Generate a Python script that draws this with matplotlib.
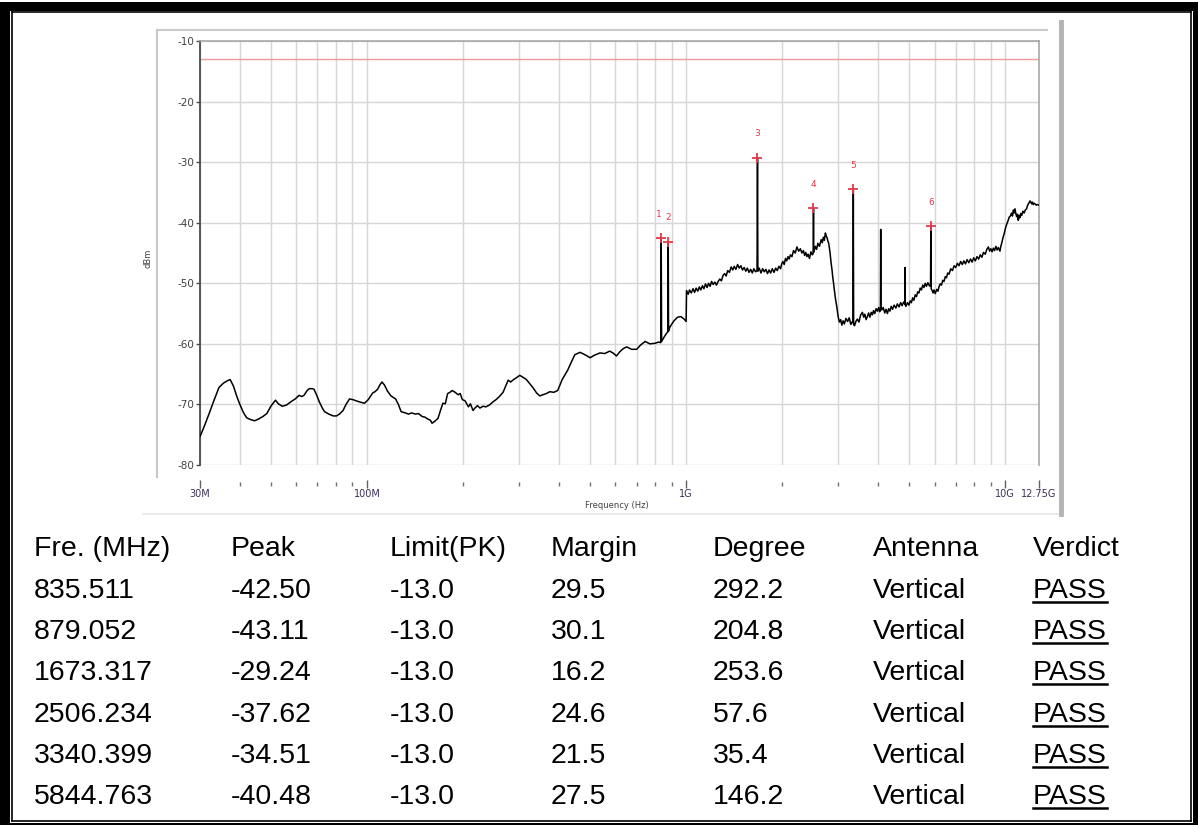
import numpy as np
import matplotlib
matplotlib.use('Agg')
import matplotlib.pyplot as plt
from matplotlib.lines import Line2D
from matplotlib.patches import Rectangle
from matplotlib.ticker import FixedLocator, NullFormatter

plt.rcParams['axes.unicode_minus'] = False

# ---- marker table (also used for the red peak markers) ----
marker_mhz = [835.511, 879.052, 1673.317, 2506.234, 3340.399, 5844.763]
peak_dbm = [-42.50, -43.11, -29.24, -37.62, -34.51, -40.48]
limit_pk = [-13.0, -13.0, -13.0, -13.0, -13.0, -13.0]
margin_db = [29.5, 30.1, 16.2, 24.6, 21.5, 27.5]
degree = [292.2, 204.8, 253.6, 57.6, 35.4, 146.2]
antenna = ['Vertical'] * 6
verdict = ['PASS'] * 6
headers = ['Fre. (MHz)', 'Peak', 'Limit(PK)', 'Margin', 'Degree', 'Antenna', 'Verdict']
limit_dbm = -13.0

trace_mhz = [
    30.0, 31.0, 32.1, 33.2, 34.4, 35.5, 36.5, 37.3, 38.2, 39.2, 40.0, 41.0, 42.0, 43.2,
    44.5, 45.8, 47.2, 48.6, 50.0, 51.0, 51.7, 52.8, 54.3, 56.0, 58.0, 59.6, 61.3, 62.5,
    63.5, 65.0, 66.0, 67.5, 68.3, 69.5, 71.0, 72.5, 73.7, 76.0, 78.5, 80.3, 82.0, 84.2,
    86.0, 88.2, 90.3, 92.5, 95.0, 98.3, 101.0, 104.3, 106.0, 108.0, 110.0, 111.5,
    113.5, 116.0, 119.0, 123.0, 125.5, 128.0, 130.0, 132.0, 135.0, 138.0, 142.0, 145.0,
    149.0, 152.0, 155.0, 158.0, 160.0, 163.0, 167.0, 170.0, 173.0, 176.0, 179.0, 182.0,
    185.0, 189.0, 193.0, 196.0, 199.0, 203.0, 208.0, 211.0, 215.0, 218.0, 222.0, 226.0,
    231.0, 236.0, 242.0, 248.0, 254.0, 260.0, 267.0, 272.0, 277.0, 282.0, 288.0, 294.0,
    301.0, 308.0, 316.0, 324.0, 331.0, 340.0, 348.0, 356.0, 365.0, 374.0, 385.0, 396.0,
    409.0, 426.0, 437.0, 448.0, 465.0, 478.0, 490.0, 500.0, 515.0, 537.0, 556.0, 576.0,
    590.0, 605.0, 620.0, 635.0, 651.0, 675.0, 700.0, 720.0, 744.0, 770.0, 800.0, 820.0,
    833.0, 838.0, 855.0, 870.0, 877.0, 881.0, 890.0, 916.0, 940.0, 963.0, 985.0, 1000.0,
    1003.0, 1015.0, 1025.0, 1038.0, 1051.0, 1063.0, 1075.0, 1088.0, 1100.0, 1112.0,
    1125.0, 1137.0, 1150.0, 1163.0, 1176.0, 1189.0, 1202.0, 1216.0, 1230.0, 1245.0,
    1260.0, 1275.0, 1290.0, 1305.0, 1320.0, 1335.0, 1350.0, 1367.0, 1384.0, 1400.0,
    1415.0, 1432.0, 1450.0, 1467.0, 1485.0, 1502.0, 1520.0, 1538.0, 1555.0, 1574.0,
    1593.0, 1612.0, 1630.0, 1650.0, 1668.0, 1678.0, 1695.0, 1716.0, 1737.0, 1757.0,
    1778.0, 1799.0, 1820.0, 1840.0, 1862.0, 1885.0, 1908.0, 1930.0, 1953.0, 1976.0,
    1993.0, 2010.0, 2029.0, 2048.0, 2066.0, 2085.0, 2103.0, 2122.0, 2146.0, 2170.0,
    2197.0, 2224.0, 2252.0, 2280.0, 2305.0, 2331.0, 2350.0, 2370.0, 2390.0, 2410.0,
    2435.0, 2460.0, 2483.0, 2500.0, 2512.0, 2523.0, 2540.0, 2563.0, 2587.0, 2617.0,
    2648.0, 2670.0, 2690.0, 2710.0, 2731.0, 2748.0, 2765.0, 2780.0, 2797.0, 2822.0,
    2845.0, 2865.0, 2880.0, 2897.0, 2913.0, 2940.0, 2964.0, 2990.0, 3005.0, 3021.0,
    3048.0, 3075.0, 3103.0, 3131.0, 3168.0, 3206.0, 3243.0, 3280.0, 3310.0, 3332.0,
    3348.0, 3370.0, 3403.0, 3440.0, 3480.0, 3523.0, 3567.0, 3600.0, 3630.0, 3663.0,
    3697.0, 3730.0, 3765.0, 3800.0, 3833.0, 3865.0, 3900.0, 3937.0, 3974.0, 4010.0,
    4040.0, 4062.0, 4070.0, 4078.0, 4100.0, 4145.0, 4190.0, 4230.0, 4272.0, 4310.0,
    4350.0, 4390.0, 4430.0, 4485.0, 4540.0, 4590.0, 4645.0, 4700.0, 4750.0, 4800.0,
    4843.0, 4850.0, 4857.0, 4880.0, 4935.0, 4989.0, 5035.0, 5080.0, 5125.0, 5172.0,
    5220.0, 5270.0, 5315.0, 5363.0, 5410.0, 5460.0, 5510.0, 5560.0, 5610.0, 5660.0,
    5720.0, 5780.0, 5830.0, 5858.0, 5900.0, 5940.0, 5978.0, 6030.0, 6100.0, 6150.0,
    6198.0, 6250.0, 6310.0, 6370.0, 6427.0, 6485.0, 6540.0, 6600.0, 6664.0, 6745.0,
    6830.0, 6910.0, 6994.0, 7075.0, 7160.0, 7245.0, 7331.0, 7415.0, 7500.0, 7590.0,
    7685.0, 7780.0, 7870.0, 7960.0, 8055.0, 8150.0, 8250.0, 8345.0, 8444.0, 8545.0,
    8650.0, 8750.0, 8851.0, 8930.0, 9010.0, 9090.0, 9170.0, 9255.0, 9340.0, 9425.0,
    9510.0, 9620.0, 9680.0, 9740.0, 9830.0, 9920.0, 10000.0, 10090.0, 10180.0, 10280.0,
    10370.0, 10460.0, 10530.0, 10600.0, 10660.0, 10720.0, 10790.0, 10850.0, 10920.0,
    10980.0, 11040.0, 11100.0, 11175.0, 11250.0, 11350.0, 11450.0, 11550.0, 11660.0,
    11730.0, 11800.0, 11875.0, 11950.0, 12025.0, 12100.0, 12170.0, 12240.0, 12320.0,
    12400.0, 12500.0, 12600.0, 12750.0,
]
trace_dbm = [
    -75.3, -73.5, -71.4, -69.3, -67.2, -66.5, -66.1, -65.9, -67.0, -68.8, -70.0, -71.3, -72.2, -72.5,
    -72.7, -72.4, -72.0, -71.5, -70.3, -69.7, -69.3, -69.9, -70.3, -70.1, -69.5, -69.1, -68.5, -68.7,
    -68.5, -67.7, -67.4, -67.4, -67.5, -68.4, -69.6, -70.6, -71.2, -71.6, -71.9, -71.9, -71.6, -71.0,
    -70.0, -69.1, -69.2, -69.4, -69.6, -69.8, -69.2, -68.1, -67.9, -67.5, -66.7, -66.3,
    -66.8, -67.8, -68.6, -69.1, -70.0, -71.2, -71.3, -71.4, -71.6, -71.4, -71.6, -71.5,
    -72.0, -72.1, -72.4, -72.6, -73.1, -72.8, -72.3, -71.0, -69.8, -69.9, -68.2, -68.0,
    -67.7, -68.0, -68.4, -68.2, -69.2, -69.4, -70.4, -69.9, -71.0, -70.6, -70.2, -70.6,
    -70.3, -70.4, -70.1, -69.6, -69.2, -68.7, -68.0, -67.0, -66.0, -66.3, -65.9, -65.6,
    -65.2, -65.5, -65.9, -66.6, -67.2, -68.1, -68.6, -68.4, -68.2, -67.9, -68.0, -67.7,
    -65.9, -64.3, -63.0, -61.8, -61.4, -61.7, -62.0, -62.3, -61.9, -61.5, -61.6, -61.2,
    -61.5, -62.0, -61.3, -60.8, -60.5, -60.9, -60.9, -60.2, -59.6, -60.0, -59.9, -59.7,
    -59.8, -59.6, -58.8, -58.2, -58.0, -57.9, -57.2, -56.2, -55.6, -55.5, -55.9, -56.3,
    -51.2, -51.8, -51.1, -51.6, -50.9, -51.5, -50.8, -51.3, -50.6, -51.1,
    -50.4, -50.9, -50.1, -50.7, -50.0, -50.5, -49.7, -50.2, -49.8, -50.3,
    -49.7, -49.3, -49.6, -48.7, -48.4, -48.8, -47.9, -48.2, -47.3, -47.8,
    -47.2, -47.7, -46.9, -47.5, -47.1, -47.8, -47.4, -48.0, -47.5, -48.2,
    -47.7, -48.3, -47.6, -48.1, -47.9, -48.0, -47.5, -48.3, -47.6, -48.1,
    -47.7, -48.4, -47.8, -48.3, -47.6, -48.2, -47.5, -47.9, -47.2, -47.6,
    -46.8, -46.4, -46.9, -45.9, -46.3, -45.6, -46.0, -45.3, -45.6, -44.6,
    -45.0, -44.0, -44.7, -44.3, -45.0, -44.6, -45.4, -44.9, -45.6, -45.2,
    -45.9, -44.8, -45.3, -45.1, -44.9, -44.5, -43.9, -44.4, -43.4, -43.9,
    -42.8, -43.3, -42.4, -42.9, -41.7, -42.2, -42.5, -43.0, -43.4, -44.8,
    -46.6, -47.8, -49.0, -50.0, -51.1, -52.7, -53.8, -55.3, -55.9, -56.4,
    -56.0, -56.9, -56.2, -56.7, -55.8, -56.3, -55.7, -56.8, -56.4, -56.5,
    -56.8, -57.0, -56.3, -55.9, -56.4, -55.2, -54.8, -55.6, -55.1, -56.0,
    -55.5, -54.9, -55.6, -54.8, -55.2, -54.5, -55.0, -54.2, -54.6, -54.0,
    -54.7, -54.3, -41.1, -54.1, -54.4, -54.0, -54.9, -54.3, -55.0, -54.2,
    -54.6, -53.8, -54.3, -53.6, -54.1, -53.4, -53.9, -53.2, -53.7, -53.1,
    -53.4, -47.4, -53.5, -53.8, -53.2, -53.6, -52.9, -53.2, -52.4, -52.8,
    -51.9, -52.2, -51.4, -51.6, -50.8, -51.1, -50.3, -50.7, -50.0, -50.5,
    -49.9, -50.4, -50.5, -50.9, -51.2, -51.6, -51.1, -51.7, -51.0, -51.3,
    -50.6, -50.1, -50.3, -49.5, -49.7, -48.9, -49.1, -48.3, -48.5, -47.6,
    -47.9, -47.1, -47.4, -46.7, -47.1, -46.4, -46.9, -46.3, -46.8, -46.1,
    -46.6, -46.0, -46.5, -45.8, -46.3, -45.6, -46.0, -45.3, -45.7, -44.9,
    -45.2, -44.4, -44.0, -44.7, -44.3, -44.8, -44.2, -44.6, -43.9, -44.5,
    -44.1, -44.7, -43.9, -43.4, -42.5, -41.8, -41.0, -40.3, -39.8, -39.1,
    -38.9, -38.4, -38.9, -37.9, -38.4, -37.7, -38.5, -39.0, -38.6,
    -39.6, -38.8, -39.2, -38.5, -38.8, -38.1, -38.4, -37.9, -37.7,
    -37.2, -36.9, -36.7, -36.4, -36.6, -36.9, -36.6, -37.0, -36.8,
    -36.9, -37.1, -37.0, -37.1,
]

W, H = 1198, 825
TABLE_FONT = 'Liberation Sans'
CHART_FONT = 'DejaVu Sans'


def fx(px):
    return px / W


def fy(py):
    return 1 - py / H


fig = plt.figure(figsize=(W / 100, H / 100), dpi=100)
fig.patch.set_facecolor('white')

# ---- double page border ----
for x0, y0, w, h in [(0, 2, 9.5, 823), (0, 2, 1198, 8.5), (1193, 2, 5, 823), (0, 822.5, 1198, 2.5)]:
    fig.patches.append(Rectangle((fx(x0), fy(y0 + h)), w / W, h / H, transform=fig.transFigure,
                                 facecolor='black', edgecolor='none'))
for xs, ys in [([11.8, 11.8], [12, 821]), ([11.8, 1190.8], [12, 12]),
               ([1190.8, 1190.8], [12, 821]), ([11.8, 1190.8], [821, 821])]:
    fig.lines.append(Line2D([fx(v) for v in xs], [fy(v) for v in ys], transform=fig.transFigure,
                            color='black', lw=1.2))

# ---- grey panel around the scan ----
panel_lines = [([157, 157], [30, 477], '#c8c8c8', 1.5),
               ([157, 1047], [30, 30], '#c8c8c8', 1.5),
               ([143, 1060], [514, 514], '#e6e6e6', 1.2),
               ([1061, 1061], [22, 514], '#b4b4b4', 3.5)]
for xs, ys, c, lw in panel_lines:
    fig.lines.append(Line2D([fx(v) for v in xs], [fy(v) for v in ys], transform=fig.transFigure,
                            color=c, lw=lw))

# ---- scan plot ----
ax = fig.add_axes([fx(200), fy(465), fx(1039) - fx(200), fy(41) - fy(465)])
ax.set_xscale('log')

f_all = np.concatenate([np.array(trace_mhz), np.array(marker_mhz)])
d_all = np.concatenate([np.array(trace_dbm), np.array(peak_dbm)])
order = np.argsort(f_all)
ax.plot(f_all[order] * 1e6, d_all[order], color='black', lw=1.1, zorder=3)

ax.axhline(limit_dbm, color='#ee9a9a', lw=1.0, zorder=2)

ax.plot(np.array(marker_mhz) * 1e6, peak_dbm, ls='none', marker='+', ms=7, mew=1.3,
        color='#e43a4a', zorder=4)
for i, (f, p) in enumerate(zip(marker_mhz, peak_dbm)):
    dx = -1.5 if i == 0 else 0
    ax.annotate(str(i + 1), (f * 1e6, p), xytext=(dx, 17), textcoords='offset points',
                ha='center', va='center', fontsize=6.5, color='#e43a4a', family=CHART_FONT)

ax.set_xlim(30e6, 12.75e9)
ax.set_ylim(-80, -10)

major_x = [30e6, 100e6, 1e9, 10e9, 12.75e9]
major_lbl = ['30M', '100M', '1G', '10G', '12.75G']
minor_x = [m * 1e6 for m in (40, 50, 60, 70, 80, 90)] + \
          [m * 1e6 for m in (200, 300, 400, 500, 600, 700, 800, 900)] + \
          [m * 1e9 for m in (2, 3, 4, 5, 6, 7, 8, 9)]
ax.xaxis.set_major_locator(FixedLocator(major_x))
ax.set_xticklabels(major_lbl)
ax.xaxis.set_minor_locator(FixedLocator(minor_x))
ax.xaxis.set_minor_formatter(NullFormatter())
ax.set_yticks(np.arange(-80, -9, 10))

ax.grid(True, which='both', axis='x', color='#d6d6d6', lw=1.0)
ax.grid(True, which='major', axis='y', color='#d6d6d6', lw=1.0)
ax.set_axisbelow(True)

ax.spines['bottom'].set_position(('outward', 14))
ax.spines['bottom'].set_visible(False)
ax.spines['left'].set_color('#4a4a4a')
ax.spines['left'].set_linewidth(1.3)
for s in ('top', 'right'):
    ax.spines[s].set_color('#a8a8a8')
    ax.spines[s].set_linewidth(1.2)

ax.tick_params(axis='x', which='major', direction='inout', length=6, width=1, color='#606060',
               labelsize=7, labelcolor='#3c2f55', pad=0)
ax.tick_params(axis='x', which='minor', direction='inout', length=2.5, width=1, color='#707070')
ax.tick_params(axis='y', which='major', direction='out', length=3, width=1, color='#4a4a4a',
               labelsize=7.5, labelcolor='#404040', pad=1)
for lbl in ax.get_xticklabels() + ax.get_yticklabels():
    lbl.set_family(CHART_FONT)

fig.text(fx(148), fy(258), 'dBm', rotation=90, ha='center', va='center', fontsize=6,
         color='#404040', family=CHART_FONT)
fig.text(fx(617), fy(506), 'Frequency (Hz)', ha='center', va='center', fontsize=6,
         color='#404040', family=CHART_FONT)

# ---- result table ----
col_x = [34, 231, 390, 551, 713, 873, 1033]
row_base = [556, 598, 639, 680, 722, 763, 804]
tsize = 20.5

for x, h in zip(col_x, headers):
    fig.text(fx(x), fy(row_base[0]), h, ha='left', va='baseline', fontsize=tsize,
             family=TABLE_FONT, color='black')

pass_texts = []
for r in range(len(marker_mhz)):
    cells = ['%.3f' % marker_mhz[r], '%.2f' % peak_dbm[r], '%.1f' % limit_pk[r],
             '%.1f' % margin_db[r], '%.1f' % degree[r], antenna[r], verdict[r]]
    yb = row_base[r + 1]
    for c, (x, s) in enumerate(zip(col_x, cells)):
        t = fig.text(fx(x), fy(yb), s, ha='left', va='baseline', fontsize=tsize,
                     family=TABLE_FONT, color='black')
        if c == len(cells) - 1:
            pass_texts.append((t, yb))

# underline the verdicts
fig.canvas.draw()
renderer = fig.canvas.get_renderer()
for t, yb in pass_texts:
    bb = t.get_window_extent(renderer)
    uy = fy(yb + 4)
    fig.lines.append(Line2D([bb.x0 / W, bb.x1 / W], [uy, uy], transform=fig.transFigure,
                            color='black', lw=1.8))

fig.savefig('out.png', dpi=100, facecolor='white')
